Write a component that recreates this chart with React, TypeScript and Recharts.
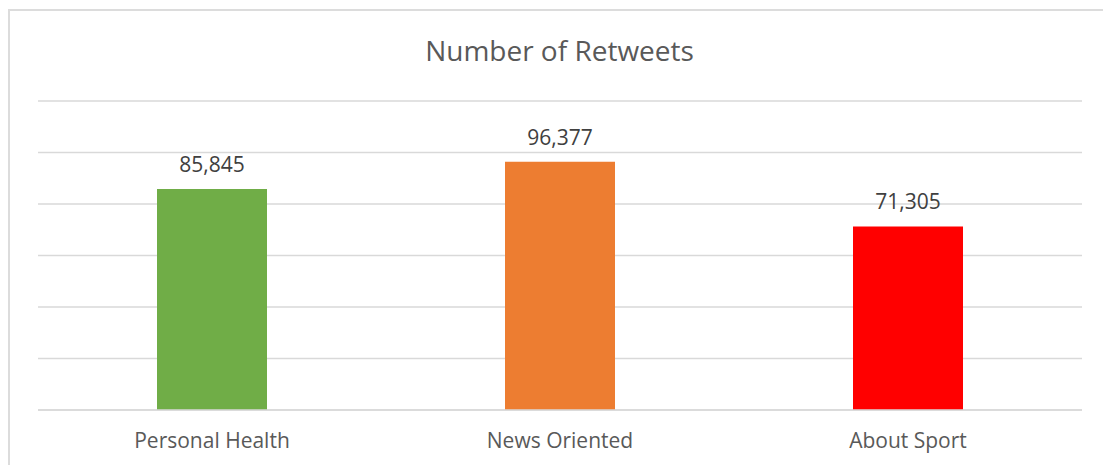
import { BarChart, Bar, XAxis, YAxis, CartesianGrid, Cell, LabelList } from "recharts";

const categories = ["Personal Health", "News Oriented", "About Sport"];
const retweets = [85845, 96377, 71305];
const barColors = ["#70AD47", "#ED7D31", "#FF0000"];
const yTicks = [0, 20000, 40000, 60000, 80000, 100000, 120000];

const FONT = "'Open Sans', 'DejaVu Sans', sans-serif";
const TEXT = "#595959";
const GRID = "#D9D9D9";

export default function App() {
  const data = categories.map((name, i) => ({ name, value: retweets[i] }));

  return (
    <div
      style={{
        position: "fixed",
        left: 0,
        top: 0,
        width: 1103,
        height: 465,
        background: "#fff",
        overflow: "hidden",
        fontFamily: FONT,
      }}
    >
      <div
        style={{
          position: "absolute",
          left: 8,
          top: 9,
          width: 1120,
          height: 480,
          border: "2px solid #DCDCDC",
          boxSizing: "border-box",
        }}
      />
      <div
        style={{
          position: "absolute",
          left: 0,
          width: 1119,
          top: 30,
          lineHeight: "40px",
          textAlign: "center",
          fontSize: 28,
          color: TEXT,
        }}
      >
        Number of Retweets
      </div>
      <div style={{ position: "absolute", left: 0, top: 0 }}>
        <BarChart
          width={1103}
          height={465}
          data={data}
          margin={{ top: 101, right: 21, bottom: 0, left: 38 }}
        >
          <CartesianGrid vertical={false} stroke={GRID} strokeWidth={1.5} />
          <YAxis hide domain={[0, 120000]} ticks={yTicks} />
          <XAxis
            dataKey="name"
            axisLine={{ stroke: GRID, strokeWidth: 1.5 }}
            tickLine={false}
            height={55}
            tick={{ fill: TEXT, fontSize: 21, fontFamily: FONT, dy: 15 }}
          />
          <Bar dataKey="value" barSize={110} isAnimationActive={false}>
            {data.map((d, i) => (
              <Cell key={d.name} fill={barColors[i]} />
            ))}
            <LabelList
              dataKey="value"
              position="top"
              offset={17}
              formatter={(v: number) => v.toLocaleString("en-US")}
              style={{ fill: "#404040", fontSize: 21, fontFamily: FONT }}
            />
          </Bar>
        </BarChart>
      </div>
    </div>
  );
}
